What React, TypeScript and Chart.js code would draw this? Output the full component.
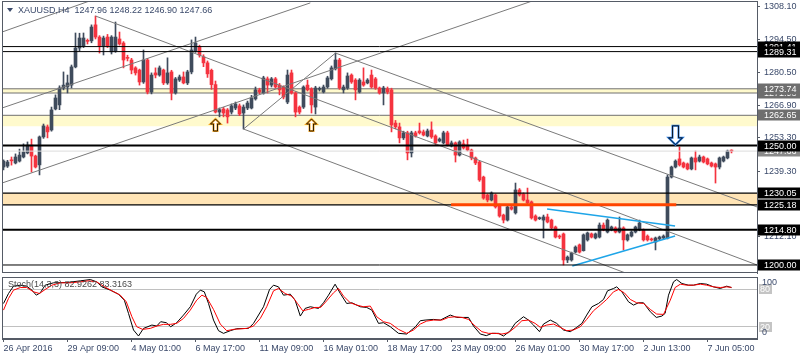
import React, { useEffect, useRef } from "react";
import { Chart, registerables } from "chart.js";
Chart.register(...registerables);

// ---------- data ----------
const xTickIdx = [0, 16, 32, 48, 64, 80, 96, 112, 128, 144, 160, 176];
const xTickLabels = ["26 Apr 2016", "29 Apr 09:00", "4 May 01:00", "6 May 17:00", "11 May 09:00", "16 May 01:00", "18 May 17:00", "23 May 09:00", "26 May 01:00", "30 May 17:00", "2 Jun 13:00", "7 Jun 05:00"];

const opens = [1241.0,1241.4,1244.0,1242.7,1243.5,1245.2,1246.9,1250.2,1245.6,1241.9,1253.6,1257.8,1256.5,1265.3,1267.0,1274.1,1274.5,1275.3,1282.9,1290.8,1291.7,1294.0,1293.8,1300.5,1295.4,1291.7,1295.4,1289.2,1289.6,1294.6,1292.9,1286.9,1285.8,1282.5,1281.6,1276.6,1285.8,1272.4,1280.4,1279.5,1281.6,1276.2,1280.8,1272.0,1277.4,1278.7,1276.2,1280.8,1289.6,1291.3,1287.1,1284.6,1281.5,1275.5,1264.0,1265.3,1264.9,1264.0,1265.7,1266.6,1263.6,1265.7,1265.7,1269.5,1273.3,1272.0,1277.9,1275.3,1277.9,1275.3,1274.5,1268.2,1280.4,1272.0,1266.1,1266.1,1275.3,1273.7,1266.1,1273.5,1272.4,1274.5,1277.9,1282.1,1285.8,1273.3,1274.1,1279.5,1277.4,1272.4,1276.6,1276.2,1279.5,1277.9,1274.1,1272.0,1273.7,1273.3,1259.4,1257.8,1253.2,1255.3,1246.9,1255.3,1256.1,1255.7,1254.0,1256.5,1254.0,1251.9,1251.1,1255.3,1249.8,1251.1,1246.0,1250.7,1250.2,1248.1,1244.8,1243.1,1236.8,1229.3,1227.2,1229.3,1225.1,1220.9,1218.8,1224.3,1221.8,1231.4,1229.7,1227.2,1226.4,1220.5,1219.4,1218.8,1220.1,1218.8,1215.9,1212.1,1213.0,1202.1,1202.1,1205.4,1208.4,1206.0,1210.5,1213.0,1211.3,1211.7,1216.7,1213.8,1214.7,1215.5,1213.8,1215.5,1210.5,1212.1,1213.8,1214.7,1214.7,1212.1,1210.9,1209.6,1210.9,1211.3,1211.3,1236.8,1241.0,1244.4,1242.7,1242.3,1240.2,1244.8,1243.5,1245.2,1244.4,1242.7,1242.3,1241.0,1243.5,1244.8,1247.96];
const highs = [1244.0,1243.8,1245.2,1246.5,1248.5,1250.7,1251.5,1252.7,1246.0,1254.0,1259.0,1258.6,1266.1,1271.2,1275.0,1280.8,1279.5,1283.7,1297.1,1297.0,1297.1,1294.6,1300.5,1304.2,1296.0,1295.8,1296.5,1296.0,1301.7,1297.5,1293.5,1287.8,1286.5,1283.0,1282.0,1290.0,1286.5,1280.4,1282.5,1283.3,1282.0,1286.7,1281.5,1278.5,1279.5,1280.8,1281.5,1294.2,1295.4,1292.0,1288.0,1285.4,1282.0,1277.0,1265.7,1266.0,1265.5,1267.4,1268.2,1267.4,1267.0,1268.6,1271.0,1274.5,1274.0,1279.0,1278.7,1278.5,1278.5,1276.0,1275.0,1281.6,1281.6,1272.5,1266.6,1275.0,1277.4,1274.2,1274.8,1274.5,1275.3,1279.0,1283.3,1288.7,1286.5,1275.3,1280.4,1280.0,1278.0,1278.0,1282.5,1278.0,1281.6,1278.5,1274.5,1274.8,1274.5,1274.0,1260.5,1259.4,1256.0,1256.0,1256.0,1256.0,1259.4,1256.5,1256.9,1259.9,1254.5,1253.2,1256.0,1256.0,1251.9,1251.5,1252.0,1252.3,1252.7,1248.5,1245.2,1243.5,1237.2,1229.7,1230.6,1229.7,1225.5,1221.3,1224.8,1224.8,1234.3,1232.0,1230.2,1232.2,1226.8,1221.0,1220.1,1220.9,1221.3,1219.2,1216.3,1212.6,1213.4,1203.8,1205.4,1208.0,1208.8,1213.0,1213.8,1213.4,1213.4,1217.6,1217.6,1219.3,1216.3,1216.0,1220.1,1216.0,1213.0,1214.3,1216.3,1218.8,1215.1,1212.6,1211.3,1211.7,1212.1,1212.6,1237.7,1241.4,1244.0,1249.4,1243.1,1242.7,1245.2,1247.7,1246.0,1245.6,1244.8,1243.1,1242.7,1245.2,1245.6,1248.1,1248.22];
const lows = [1239.8,1240.8,1241.8,1242.3,1243.1,1244.8,1246.5,1238.9,1240.6,1237.7,1253.0,1253.2,1256.0,1264.9,1265.0,1273.3,1272.0,1274.1,1282.5,1289.6,1291.0,1292.5,1293.0,1294.6,1288.7,1287.9,1291.0,1288.3,1289.0,1292.0,1282.5,1285.4,1280.0,1279.5,1275.3,1276.0,1271.6,1271.6,1278.3,1279.0,1275.5,1275.6,1269.1,1271.5,1276.8,1275.8,1275.5,1280.0,1289.0,1287.0,1283.0,1278.5,1273.5,1263.6,1262.0,1262.0,1259.4,1263.2,1265.0,1262.5,1256.9,1265.0,1265.3,1269.0,1271.6,1271.5,1272.0,1274.5,1274.0,1271.2,1269.5,1267.5,1271.5,1262.0,1263.2,1265.5,1272.8,1263.6,1263.2,1272.8,1272.0,1274.0,1277.4,1281.6,1273.5,1272.0,1273.5,1276.0,1269.1,1272.0,1274.8,1275.8,1274.0,1273.5,1271.5,1267.0,1271.6,1255.7,1257.0,1251.1,1252.5,1244.0,1245.2,1253.5,1254.8,1254.0,1253.6,1253.0,1250.0,1251.5,1250.7,1249.8,1249.4,1243.1,1245.6,1248.5,1247.7,1244.0,1242.0,1235.0,1227.5,1226.4,1226.8,1223.8,1220.0,1217.6,1218.4,1223.0,1221.3,1228.8,1226.8,1225.6,1219.2,1218.4,1219.0,1211.3,1217.6,1215.0,1211.3,1211.0,1200.0,1201.0,1201.6,1205.0,1205.0,1205.8,1210.0,1211.3,1210.9,1211.3,1214.3,1213.4,1214.3,1213.4,1213.4,1206.3,1210.0,1211.7,1213.4,1214.3,1210.0,1210.0,1210.0,1206.3,1210.5,1210.9,1210.9,1236.4,1240.6,1241.4,1240.6,1239.8,1239.8,1239.8,1243.1,1242.7,1241.9,1241.0,1234.3,1240.2,1243.1,1244.4,1246.90];
const closes = [1243.5,1243.1,1243.6,1245.2,1246.0,1247.3,1250.2,1245.6,1241.0,1253.6,1258.2,1255.7,1264.9,1269.9,1274.1,1275.3,1276.2,1282.9,1290.8,1295.0,1295.0,1293.6,1299.6,1295.4,1291.7,1295.0,1291.7,1295.4,1295.4,1292.5,1285.8,1286.5,1281.6,1280.4,1276.6,1285.8,1272.4,1279.5,1279.5,1282.5,1276.2,1280.4,1272.0,1277.9,1278.7,1276.2,1280.8,1290.0,1292.9,1287.9,1284.6,1280.0,1275.5,1264.0,1265.0,1263.6,1262.0,1266.6,1267.4,1263.2,1266.1,1267.8,1269.9,1273.3,1272.4,1278.3,1275.3,1277.9,1274.5,1273.3,1270.3,1279.5,1272.0,1264.0,1264.0,1274.5,1273.3,1267.0,1274.1,1273.9,1274.5,1278.3,1282.5,1285.8,1274.1,1274.5,1279.1,1276.6,1273.3,1277.4,1275.3,1277.4,1274.5,1274.1,1272.0,1274.1,1272.4,1258.6,1257.8,1253.2,1255.3,1246.9,1255.3,1254.0,1255.3,1254.4,1256.1,1253.6,1251.1,1252.7,1255.3,1250.2,1251.1,1246.0,1251.5,1249.0,1248.1,1244.8,1242.7,1235.6,1228.0,1227.2,1230.1,1224.3,1220.5,1218.8,1224.3,1223.4,1231.4,1229.3,1227.2,1226.0,1219.7,1218.8,1219.7,1220.1,1218.0,1215.5,1211.7,1211.7,1202.1,1203.3,1205.0,1207.5,1205.4,1212.6,1213.4,1211.7,1213.0,1216.7,1214.7,1218.8,1215.9,1213.8,1215.5,1210.5,1212.6,1213.8,1215.9,1217.6,1210.5,1210.5,1210.5,1211.3,1211.7,1212.1,1236.8,1241.0,1243.5,1241.9,1241.0,1240.2,1244.8,1243.1,1245.2,1243.1,1242.3,1241.4,1241.0,1244.8,1245.2,1247.7,1247.66];

const priceTicks = [1212.10, 1225.70, 1239.30, 1253.30, 1266.90, 1280.50, 1294.50, 1308.10];

// [price, background, text]
const priceTags: [number, string, string][] = [
  [1291.41, "#000000", "#ffffff"],
  [1289.31, "#000000", "#ffffff"],
  [1271.98, "#6e6e6e", "#ffffff"],
  [1273.74, "#6e6e6e", "#ffffff"],
  [1262.65, "#6e6e6e", "#ffffff"],
  [1247.66, "#8a8a8a", "#ffffff"],
  [1250.00, "#000000", "#ffffff"],
  [1230.05, "#000000", "#ffffff"],
  [1225.18, "#000000", "#ffffff"],
  [1214.80, "#000000", "#ffffff"],
  [1200.00, "#000000", "#ffffff"],
];

// horizontal levels: [price, width]
const blackLevels: [number, number][] = [[1291.41, 1], [1289.31, 1], [1250.0, 2], [1230.05, 1.3], [1225.18, 1.3], [1214.8, 2], [1200.0, 1]];
const grayLevels = [1273.74, 1271.98, 1262.65];
const bidLevel = 1247.66;
// bands: [from, to, colour]
const bands: [number, number, string][] = [
  [1273.74, 1271.98, "#fffacd"],
  [1262.65, 1258.1, "#fffacd"],
  [1230.05, 1225.18, "#ffe4b5"],
];
// trend lines: [i1, p1, i2, p2]
const channelLines: [number, number, number, number][] = [
  [-0.375, 1297.5, 22.2, 1310.9],
  [-0.375, 1265.7, 76.7, 1309.7],
  [-0.375, 1234.3, 132.9, 1310.9],
  [60, 1256.9, 83, 1288.7],
  [23, 1304.2, 188.4, 1200.0],
  [83, 1288.7, 188.4, 1224.3],
  [60, 1256.9, 188.4, 1175.9],
];
const triangleLines: [number, number, number, number][] = [
  [135.9, 1223.4, 167.9, 1216.3],
  [142.2, 1199.6, 167.9, 1212.1],
];
const orangeLine: [number, number, number, number] = [111.9, 1225.18, 168.2, 1225.18];
// arrows: [index, price]
const upArrows: [number, number][] = [[53, 1261.1], [77, 1261.1]];
const downArrows: [number, number][] = [[168, 1250.3]];

const stochMain: [number, number][] = [[0,57.3],[1.25,73.4],[2.5,85.2],[4.2,86.8],[5.8,85.2],[7.1,78.8],[8.2,70.7],[9.2,74.5],[10.4,86.8],[12.5,90.6],[15.8,91.1],[19.2,93.8],[21.7,95.9],[23.3,92.2],[24.6,84.1],[26.7,78.8],[28.75,72.3],[30.2,62.7],[31.25,41.3],[32.5,14.5],[33.75,4.8],[35,17.1],[37.1,22.5],[38.3,20.9],[39.3,27.9],[40.7,26.3],[41.8,19.8],[43.3,26.3],[45,38.6],[46.7,52],[48.2,72.3],[49.2,78.8],[50.2,76.1],[51.25,57.3],[52.5,30.5],[53.75,13.4],[55,9.1],[56.7,13.4],[58.3,16.6],[61.25,17.1],[62.5,25.2],[65,52],[66.5,79.8],[67.5,86.8],[68.75,84.1],[70,70.7],[71.7,72.3],[72.9,62.7],[74.2,37],[75.4,49.3],[76.7,52],[78.75,49.3],[80,58.4],[81.25,70.7],[82.9,88.4],[84.2,73.4],[85.8,57.3],[87.1,58.4],[89.2,52],[90.8,50.9],[92.1,46.6],[93.75,25.2],[95,26.3],[96.7,19.8],[98.75,9.1],[100.8,8],[103,19.8],[104.2,29.5],[105.4,30.5],[107.5,31.6],[109.2,30.5],[111.7,38.6],[113.3,34.8],[115,34.8],[116.25,34.8],[117.5,20.9],[119.2,8],[120.7,5.4],[122.1,9.1],[123.75,9.1],[125,4.8],[126.7,13.4],[127.9,25.2],[130,35.9],[131.25,30.5],[132.5,22.5],[134,11.8],[135,24.1],[136.7,30.5],[138.3,25.2],[140,14.5],[141.7,11.8],[143.3,18.8],[144.6,25.2],[145.8,38.6],[147.1,52],[148.75,57.3],[150,63.8],[151,77.7],[152.5,81.5],[153.3,84.1],[154.6,76.1],[156.25,60],[157.5,54.7],[158.75,58.4],[160,58.4],[161.7,43.9],[163.2,34.8],[164.6,37],[165.4,41.3],[166.25,70.7],[167.5,92.2],[168.3,95.9],[169.6,89.5],[171.25,86.8],[172.5,86.8],[174.2,89.5],[175.8,88.4],[177.5,84.1],[179.2,81.5],[180.8,85.2],[182,82.9]];
const stochSignal: [number, number][] = [[0,46.6],[1.25,65.4],[2.5,78.8],[4.2,83],[5.8,83],[7.5,76.1],[9,73.4],[10.4,79.8],[12.1,86.8],[14.2,90.6],[16.7,90.6],[19.2,92.2],[21.25,93.8],[23.3,92.2],[25,85.2],[27.1,77.7],[29.2,70.7],[30.7,60],[32.1,35.9],[33.3,19.8],[34.8,15.5],[36.7,17.1],[38.3,20.9],[40,23.6],[41.7,23.6],[43.3,25.2],[45,33.2],[46.7,46.6],[48.3,62.7],[49.6,70.7],[50.8,67],[52.5,47.7],[54.2,24.1],[55.8,13.4],[57.5,15.5],[60.8,17.1],[62.5,20.9],[64.2,33.2],[65.8,52],[67.5,77.7],[68.75,81.5],[70.4,73.4],[72.1,69.1],[73.5,57.3],[74.8,45.6],[76.25,47.7],[77.9,50.9],[79.3,50.9],[80.8,61.6],[82.5,74.5],[83.75,81.5],[85,69.1],[86.7,58.4],[88.3,54.7],[90,52],[91.7,53.1],[93.3,35.9],[95,27.9],[96.7,25.2],[98.75,15.5],[100.8,9.1],[102.5,14.5],[104.2,24.1],[105.8,28.9],[107.5,30.5],[109.6,30.5],[111.25,34.8],[112.9,35.9],[114.6,34.8],[116.25,31.6],[117.9,20.9],[119.6,11.8],[121.25,9.1],[122.9,9.1],[124.6,8],[126.25,10.2],[127.9,18.8],[129.6,29.5],[131.25,30.5],[132.9,25.2],[134.2,18.8],[135.8,22.5],[137.5,24.1],[139.2,18.8],[140.8,13.4],[142.5,14.5],[144.2,19.8],[145.8,31.6],[147.5,45.6],[149.2,54.7],[150.8,63.8],[152.5,76.1],[153.75,79.8],[155.2,74.5],[156.7,63.8],[158.3,58.4],[160,57.3],[161.7,47.7],[163.3,40.2],[165,39.7],[166.7,62.7],[167.9,83],[169.2,88.4],[170.8,86.8],[172.5,86.8],[174.2,88.4],[175.8,86.8],[177.5,84.1],[179.2,83],[180.8,84.1],[182,83.3]];
const stochLevels = [20, 80];
const stochScaleLabels = [100, 0];

const titleText = "XAUUSD,H4  1247.96 1248.22 1246.90 1247.66";
const stochTitle = "Stoch(14,3,3) 82.9262 83.3163";

// ---------- view constants ----------
const X_MIN = -0.375, X_MAX = 188.375;
const Y_MIN = 1196.65, Y_MAX = 1310.49;
const FONT = "'Liberation Sans', Arial, sans-serif";
const TXT = "#3b4a6b";
const FRAME = "#555b66";
const BULL = "#3f4b5c";
const BEAR = "#f5333f";

function seg(q: [number, number, number, number], color: string, width: number, order: number) {
  return {
    type: "line" as const,
    data: [{ x: q[0], y: q[1] }, { x: q[2], y: q[3] }],
    borderColor: color, borderWidth: width, pointRadius: 0, pointHoverRadius: 0,
    fill: false, tension: 0, order,
  };
}

function drawArrow(ctx: CanvasRenderingContext2D, x: number, y: number, up: boolean, w: number, h: number, head: number, shaft: number, color: string) {
  const s = up ? 1 : -1;
  ctx.save();
  ctx.beginPath();
  ctx.moveTo(x, y);
  ctx.lineTo(x + w / 2, y + s * head);
  ctx.lineTo(x + shaft / 2, y + s * head);
  ctx.lineTo(x + shaft / 2, y + s * h);
  ctx.lineTo(x - shaft / 2, y + s * h);
  ctx.lineTo(x - shaft / 2, y + s * head);
  ctx.lineTo(x - w / 2, y + s * head);
  ctx.closePath();
  ctx.fillStyle = "#ffffff";
  ctx.fill();
  ctx.lineJoin = "miter";
  ctx.strokeStyle = color;
  ctx.lineWidth = 2;
  ctx.stroke();
  ctx.translate(0.7, 0.7);
  ctx.strokeStyle = "#000000";
  ctx.lineWidth = 0.8;
  ctx.stroke();
  ctx.restore();
}

export default function App() {
  const mainRef = useRef<HTMLCanvasElement>(null);
  const stochRef = useRef<HTMLCanvasElement>(null);

  useEffect(() => {
    document.body.style.margin = "0";
    const colors = closes.map((c, i) => (c >= opens[i] ? BULL : BEAR));

    const datasets: any[] = [];
    // top lines
    datasets.push(seg(orangeLine, "#ff4500", 3, -1));
    blackLevels.forEach(([p, w]) => datasets.push(seg([X_MIN, p, X_MAX, p], "#000000", w, 0)));
    triangleLines.forEach((q) => datasets.push(seg(q, "#1ea5e8", 1.5, 1)));
    channelLines.forEach((q) => datasets.push(seg(q, "#7a7a7a", 1, 2)));
    datasets.push(seg([X_MIN, bidLevel, X_MAX, bidLevel], "#dcdcdc", 1, 3));
    // candles
    datasets.push({
      type: "bar", data: opens.map((o, i) => ({ x: i, y: [o, closes[i]] })),
      backgroundColor: colors, barThickness: 3, maxBarThickness: 3, grouped: false, minBarLength: 1, order: 5,
    });
    datasets.push({
      type: "bar", data: lows.map((l, i) => ({ x: i, y: [l, highs[i]] })),
      backgroundColor: colors, barThickness: 1, maxBarThickness: 1, grouped: false, minBarLength: 1, order: 6,
    });
    // gray level lines (behind candles)
    grayLevels.forEach((p) => datasets.push(seg([X_MIN, p, X_MAX, p], "#707070", 1, 8)));
    // bands
    bands.forEach(([a, b, c]) => datasets.push({
      ...seg([X_MIN, a, X_MAX, a], "rgba(0,0,0,0)", 0, 10),
      fill: { value: b }, backgroundColor: c,
    }));

    const mainPlugin = {
      id: "mainDecor",
      afterDraw(chart: any) {
        const { ctx, chartArea, scales } = chart;
        const ys = scales.y, xs = scales.x;
        ctx.save();
        // frame
        ctx.strokeStyle = FRAME;
        ctx.lineWidth = 1;
        ctx.strokeRect(chartArea.left + 0.5, chartArea.top + 0.5, chartArea.right - chartArea.left, chartArea.bottom - chartArea.top - 1);
        // arrows
        upArrows.forEach(([i, p]) => drawArrow(ctx, xs.getPixelForValue(i), ys.getPixelForValue(p), true, 10, 12, 5, 4, "#f5a623"));
        downArrows.forEach(([i, p]) => drawArrow(ctx, xs.getPixelForValue(i), ys.getPixelForValue(p), false, 14, 19, 7, 6, "#2a7de1"));
        // title
        ctx.fillStyle = TXT;
        ctx.beginPath();
        ctx.moveTo(7, 8); ctx.lineTo(13, 8); ctx.lineTo(10, 12); ctx.closePath(); ctx.fill();
        ctx.font = `9px ${FONT}`;
        ctx.textBaseline = "middle";
        ctx.textAlign = "left";
        ctx.fillText(titleText, 18, 10.5);
        // price tags
        priceTags.forEach(([p, bg, fg]) => {
          const y = Math.round(ys.getPixelForValue(p));
          ctx.fillStyle = bg;
          ctx.fillRect(chartArea.right + 1, y - 5.5, chart.width - chartArea.right - 1, 11);
          ctx.fillStyle = fg;
          ctx.fillText(p.toFixed(2), chartArea.right + 7, y + 0.5);
        });
        ctx.restore();
      },
    };

    const main = new Chart(mainRef.current!, {
      type: "bar",
      data: { datasets },
      plugins: [mainPlugin],
      options: {
        animation: false, responsive: false, events: [],
        layout: { padding: { left: 2, top: 1, right: 0, bottom: 3 } },
        plugins: { legend: { display: false }, tooltip: { enabled: false } },
        scales: {
          x: { type: "linear", display: false, min: X_MIN, max: X_MAX, offset: false },
          y: {
            position: "right", min: Y_MIN, max: Y_MAX,
            afterBuildTicks: (s: any) => { s.ticks = priceTicks.map((v) => ({ value: v })); },
            afterFit: (s: any) => { s.width = 43; s.paddingTop = 0; s.paddingBottom = 0; },
            grid: { drawOnChartArea: false, drawTicks: true, tickLength: 3, color: FRAME },
            border: { display: true, color: FRAME },
            ticks: { padding: 4, autoSkip: false, color: TXT, font: { family: FONT, size: 9 }, callback: (v: any) => Number(v).toFixed(2) },
          },
        },
      } as any,
    });

    const stochPlugin = {
      id: "stochDecor",
      afterDraw(chart: any) {
        const { ctx, chartArea, scales } = chart;
        const ys = scales.y;
        ctx.save();
        ctx.strokeStyle = FRAME;
        ctx.lineWidth = 1;
        ctx.strokeRect(chartArea.left + 0.5, chartArea.top + 0.5, chartArea.right - chartArea.left, chartArea.bottom - chartArea.top - 1);
        ctx.font = `9px ${FONT}`;
        ctx.textBaseline = "middle";
        ctx.textAlign = "left";
        ctx.fillStyle = "#4a4a4a";
        ctx.fillText(stochTitle, 8, 9);
        // level tags (grey boxes)
        stochLevels.forEach((v) => {
          const y = Math.round(ys.getPixelForValue(v));
          ctx.fillStyle = "#c4c4c4";
          ctx.fillRect(chartArea.right + 2, y - 5, 13, 10);
          ctx.fillStyle = "#ffffff";
          ctx.fillText(String(v), chartArea.right + 3, y + 0.5);
        });
        ctx.fillStyle = TXT;
        stochScaleLabels.forEach((v) => {
          const y = ys.getPixelForValue(v) + (v > 50 ? 6 : -6);
          ctx.fillText(String(v), chartArea.right + 5, y);
        });
        ctx.restore();
      },
    };

    const stoch = new Chart(stochRef.current!, {
      type: "line",
      data: {
        datasets: [
          { data: stochSignal.map(([x, y]) => ({ x, y })), borderColor: "#ff0000", borderWidth: 1, pointRadius: 0, tension: 0, fill: false },
          { data: stochMain.map(([x, y]) => ({ x, y })), borderColor: "#000000", borderWidth: 1, pointRadius: 0, tension: 0, fill: false },
        ],
      },
      plugins: [stochPlugin],
      options: {
        animation: false, responsive: false, events: [],
        layout: { padding: { left: 2, top: 1, right: 0, bottom: 0 } },
        plugins: { legend: { display: false }, tooltip: { enabled: false } },
        scales: {
          x: {
            type: "linear", min: X_MIN, max: X_MAX, offset: false,
            afterBuildTicks: (s: any) => { s.ticks = xTickIdx.map((v) => ({ value: v })); },
            afterFit: (s: any) => { s.height = 21; s.paddingLeft = 0; s.paddingRight = 0; },
            grid: { drawOnChartArea: false, drawTicks: true, tickLength: 3, color: FRAME },
            border: { display: true, color: FRAME },
            ticks: {
              align: "start", maxRotation: 0, autoSkip: false, padding: 1, color: TXT,
              font: { family: FONT, size: 9 },
              callback: (v: any) => xTickLabels[xTickIdx.indexOf(Number(v))] ?? "",
            },
          },
          y: {
            position: "right", min: 0, max: 100,
            afterBuildTicks: (s: any) => { s.ticks = stochLevels.map((v) => ({ value: v })); },
            afterFit: (s: any) => { s.width = 43; s.paddingTop = 0; s.paddingBottom = 0; },
            grid: { drawOnChartArea: true, drawTicks: false, color: "#c0c0c0" },
            border: { display: true, color: FRAME },
            ticks: { display: false },
          },
        },
      } as any,
    });

    return () => { main.destroy(); stoch.destroy(); };
  }, []);

  return (
    <div style={{ position: "absolute", left: 0, top: 0, width: 800, height: 360, background: "#ffffff" }}>
      <canvas ref={mainRef} width={800} height={276} style={{ position: "absolute", left: 0, top: 0, width: 800, height: 276 }} />
      <canvas ref={stochRef} width={800} height={84} style={{ position: "absolute", left: 0, top: 276, width: 800, height: 84 }} />
    </div>
  );
}
